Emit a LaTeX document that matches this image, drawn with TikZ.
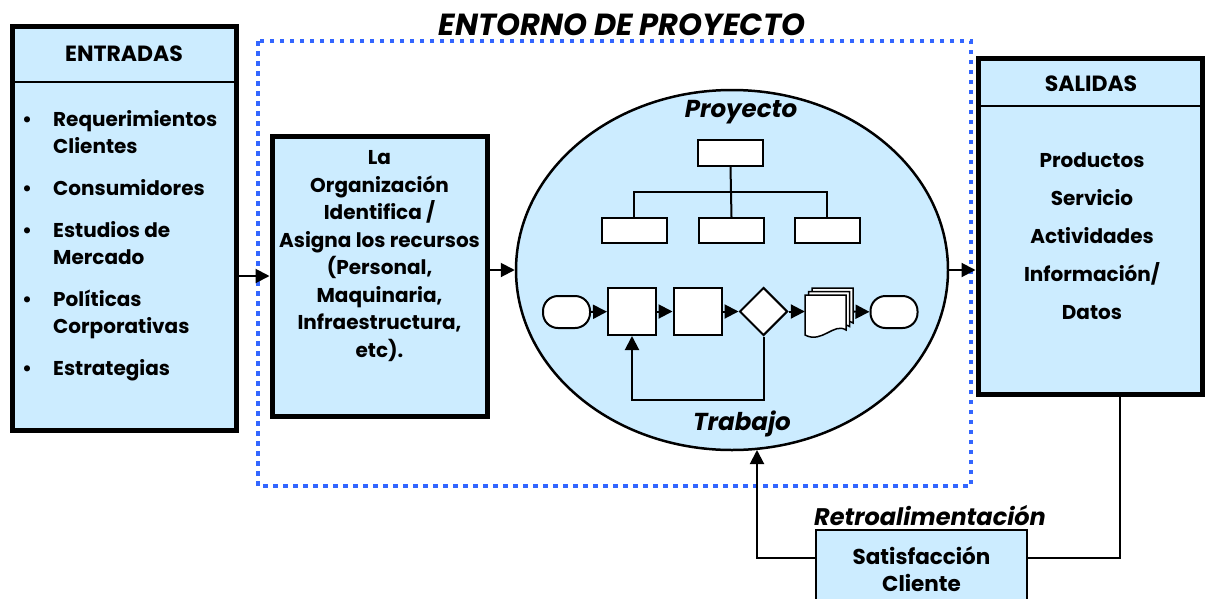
\documentclass[tikz,border=0pt]{standalone}
\usepackage{fontspec}
\setmainfont{Poppins}
\usetikzlibrary{arrows.meta,shapes.geometric}
\definecolor{cajaazul}{RGB}{204,236,255}
\definecolor{puntosazul}{RGB}{51,102,255}
\tikzset{
  cajagruesa/.style={draw, line width=5pt, fill=cajaazul, inner sep=0pt},
  cajafina/.style={draw, line width=2pt, fill=white, inner sep=0pt},
  linea/.style={line width=2pt},
  flecha/.style={line width=2pt, -{Triangle[length=14pt,width=14pt]}},
  texto/.style={font=\fontsize{20}{27}\selectfont\bfseries, align=center, inner sep=0pt},
  cabecera/.style={font=\fontsize{22}{22}\selectfont\bfseries, inner sep=0pt},
  titulo/.style={font=\fontsize{#1}{#1}\selectfont\bfseries\itshape, inner sep=0pt},
  terminal/.style={draw, line width=2pt, fill=white, rounded corners=15pt, minimum width=47pt, minimum height=32pt, inner sep=0pt}
}
\begin{document}
\begin{tikzpicture}[x=1pt,y=-1pt]
        \useasboundingbox (0,0) rectangle (1205,598);

        % Draw the project environment (dotted frame)
        \draw[puntosazul, line width=4.5pt, dash pattern=on 4.5pt off 5.5pt] (258,41) rectangle (971,486);
        \node[titulo=30.5] (entorno) at (622,25) {ENTORNO DE PROYECTO};

        % Draw the inputs box
        \node[cajagruesa, minimum width=224pt, minimum height=404pt] (entradas) at (124,228) {};
        \draw[line width=2.5pt] (12,82) -- (236,82);
        \node[cabecera] (entradastit) at (124,54) {ENTRADAS};
        \node[texto, align=left, anchor=north west] (entradaslista) at (22,110) {%
          \makebox[31pt][l]{\textbullet}Requerimientos\\ \hspace*{31pt}Clientes\\[15pt]
          \makebox[31pt][l]{\textbullet}Consumidores\\[15pt]
          \makebox[31pt][l]{\textbullet}Estudios de\\ \hspace*{31pt}Mercado\\[15pt]
          \makebox[31pt][l]{\textbullet}Políticas\\ \hspace*{31pt}Corporativas\\[15pt]
          \makebox[31pt][l]{\textbullet}Estrategias};

        % Draw the organization box
        \node[cajagruesa, minimum width=215pt, minimum height=280pt] (organizacion) at (379.5,276) {};
        \node[texto, font=\fontsize{20}{27.5}\selectfont\bfseries] (organizaciontxt) at (379.5,256) {La\\ Organización\\ Identifica /\\ Asigna los recursos\\ (Personal,\\ Maquinaria,\\ Infraestructura,\\ etc).};

        % Draw the project ellipse
        \node[ellipse, draw, line width=2.5pt, fill=cajaazul, minimum width=432pt, minimum height=360pt, inner sep=0pt] (proyecto) at (732,270) {};
        \node[titulo=24.5] (proyectotit) at (741,112) {Proyecto};
        \node[titulo=24.5] (trabajotit) at (742,424) {Trabajo};

        % Draw the organization chart
        \node[cajafina, minimum width=65pt, minimum height=26pt] (org0) at (730.5,153) {};
        \node[cajafina, minimum width=65pt, minimum height=25pt] (org1) at (634,230.5) {};
        \node[cajafina, minimum width=65pt, minimum height=25pt] (org2) at (731.5,230.5) {};
        \node[cajafina, minimum width=65pt, minimum height=25pt] (org3) at (827,230.5) {};
        \coordinate (rama) at (731,192);
        \draw[linea] (org0.south) -- (rama);
        \draw[linea] (org1.north) |- (rama) -| (org3.north);
        \draw[linea] (rama) -- (org2.north);

        % Draw the work flow
        \node[terminal] (inicio) at (566.5,312) {};
        \node[cajafina, minimum width=48pt, minimum height=47pt] (paso1) at (632,311.5) {};
        \node[cajafina, minimum width=48pt, minimum height=47pt] (paso2) at (697.5,311.5) {};
        \node[diamond, draw, line width=2pt, fill=white, minimum width=48pt, minimum height=48pt, inner sep=0pt] (decision) at (763.5,311.5) {};
        \node[minimum width=48pt, minimum height=47pt, inner sep=0pt] (documento) at (829,311.5) {};
        \foreach \o in {7,3.5,0}
          \draw[line width=1.5pt, fill=white] (805+\o,295-\o) -- (846+\o,295-\o) -- (846+\o,330-\o)
            .. controls (834+\o,322-\o) and (822+\o,344-\o) .. (805+\o,335-\o) -- cycle;
        \node[terminal] (fin) at (894,312) {};
        \draw[flecha] (inicio) -- (paso1);
        \draw[flecha] (paso1) -- (paso2);
        \draw[flecha] (paso2) -- (decision);
        \draw[flecha] (decision) -- (documento);
        \draw[flecha] (documento) -- (fin);
        \draw[flecha] (decision.south) -- ++(0,63) -| (paso1.south);

        % Draw the outputs box
        \node[cajagruesa, minimum width=224pt, minimum height=336pt] (salidas) at (1090,226) {};
        \draw[line width=2.5pt] (978,106) -- (1202,106);
        \node[cabecera] (salidastit) at (1091,84) {SALIDAS};
        \node[texto, font=\fontsize{20}{38}\selectfont\bfseries] (salidaslista) at (1092,236) {Productos\\ Servicio\\ Actividades\\ Información/\\ Datos};

        % Draw the feedback box
        \node[draw, line width=2pt, fill=cajaazul, minimum width=211pt, minimum height=72pt, inner sep=0pt] (satisfaccion) at (921.5,566) {};
        \node[texto, font=\fontsize{21.5}{27}\selectfont\bfseries] (satisfacciontxt) at (921.5,569) {Satisfacción\\ Cliente};
        \node[titulo=24] (retro) at (930,516) {Retroalimentación};

        % Draw the main arrows
        \draw[flecha] (entradas.east |- organizacion.west) -- (organizacion.west);
        \draw[flecha] (organizacion.east |- proyecto.west) -- (proyecto.west);
        \draw[flecha] (proyecto.east) -- (salidas.west |- proyecto.east);
        \coordinate (salidasbase) at (1120,394);
        \coordinate (retrofin) at (757,450);
        \draw[linea] (salidasbase) |- ([yshift=8pt]satisfaccion.east);
        \draw[flecha] ([yshift=8pt]satisfaccion.west) -| (retrofin);
    \end{tikzpicture}
\end{document}
